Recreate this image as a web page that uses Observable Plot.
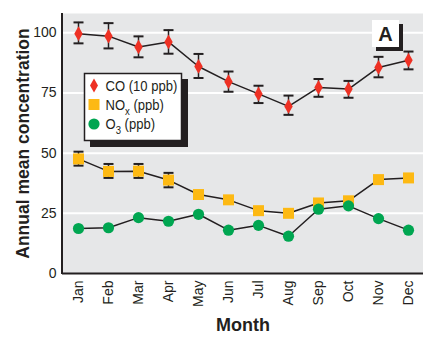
<!DOCTYPE html>
<html>
<head>
<meta charset="utf-8">
<script src="https://cdn.jsdelivr.net/npm/d3@7"></script>
<script src="https://cdn.jsdelivr.net/npm/@observablehq/plot@0.6"></script>
<style>
  html, body { margin: 0; padding: 0; background: #fff; }
  #chart svg { display: block; }
</style>
</head>
<body>
<div id="chart"></div>
<script>
const months = ["Jan","Feb","Mar","Apr","May","Jun","Jul","Aug","Sep","Oct","Nov","Dec"];
const coValues = [99.6, 98.6, 94.1, 96.2, 86.0, 79.7, 74.6, 69.4, 77.3, 76.6, 85.6, 88.6];
const coLow    = [95.6, 93.5, 89.8, 91.3, 81.2, 75.5, 70.8, 65.9, 73.4, 73.0, 81.5, 84.8];
const coHigh   = [104.3, 104.0, 98.5, 101.1, 91.2, 83.9, 78.0, 73.9, 80.8, 80.0, 90.0, 92.2];
const noxValues = [47.6, 42.4, 42.5, 38.8, 32.8, 30.6, 26.1, 25.0, 29.3, 30.2, 39.0, 39.7];
const noxLow    = [44.8, 39.7, 39.7, 35.8, null, null, null, null, null, null, null, null];
const noxHigh   = [50.6, 45.5, 45.5, 41.8, null, null, null, null, null, null, null, null];
const o3Values  = [18.7, 19.0, 23.2, 21.7, 24.6, 18.0, 20.0, 15.5, 26.7, 28.1, 22.8, 18.0];
const yTicks = [0, 25, 50, 75, 100];
const gridTicks = [25, 50, 75, 100];
const legendLabels = ["CO (10 ppb)", "NO", "O"];

const dark = "#231f20";
const red = "#ee3124";
const orange = "#fdb913";
const green = "#00a651";
const font = "'Liberation Sans', Arial, sans-serif";

const co = months.map((m, i) => ({month: m, value: coValues[i], low: coLow[i], high: coHigh[i]}));
const nox = months.map((m, i) => ({month: m, value: noxValues[i], low: noxLow[i], high: noxHigh[i]}));
const noxErr = nox.filter(d => d.low != null);
const o3 = months.map((m, i) => ({month: m, value: o3Values[i]}));

const tallDiamond = {
  draw(ctx, size) {
    const r = Math.sqrt(size / Math.PI);
    ctx.moveTo(0, -r * 1.75);
    ctx.lineTo(r, 0);
    ctx.lineTo(0, r * 1.75);
    ctx.lineTo(-r, 0);
    ctx.closePath();
  }
};
const capSymbol = {
  draw(ctx, size) {
    const r = Math.sqrt(size / Math.PI);
    ctx.moveTo(-r, 0);
    ctx.lineTo(r, 0);
  }
};

const capStyle = {symbol: capSymbol, r: 5, stroke: dark, strokeWidth: 2, fill: "none"};

const plot = Plot.plot({
  width: 423,
  height: 337,
  marginLeft: 62,
  marginRight: 0,
  marginTop: 13,
  marginBottom: 64,
  style: {fontFamily: font, background: "#fff", color: dark},
  x: {type: "point", domain: months, padding: 0.46},
  y: {domain: [0, 108]},
  marks: [
    Plot.frame({fill: "#e6e7e8"}),
    Plot.ruleY(gridTicks, {stroke: "#fff", strokeWidth: 2}),
    Plot.axisY(yTicks, {tickSize: 0, tickPadding: 6, fontSize: 14, fill: dark, label: null}),
    Plot.axisX({tickSize: 0, tickPadding: 7, tickRotate: -90, fontSize: 14, fill: dark, label: null}),
    Plot.ruleY([0], {stroke: dark, strokeWidth: 2}),
    // lines
    Plot.line(co, {x: "month", y: "value", stroke: dark, strokeWidth: 1.5}),
    Plot.line(nox, {x: "month", y: "value", stroke: dark, strokeWidth: 1.5}),
    Plot.line(o3, {x: "month", y: "value", stroke: dark, strokeWidth: 1.5}),
    // error bars
    Plot.ruleX(co, {x: "month", y1: "low", y2: "high", stroke: dark, strokeWidth: 1.5}),
    Plot.dot(co, {x: "month", y: "low", ...capStyle}),
    Plot.dot(co, {x: "month", y: "high", ...capStyle}),
    Plot.ruleX(noxErr, {x: "month", y1: "low", y2: "high", stroke: dark, strokeWidth: 1.5}),
    Plot.dot(noxErr, {x: "month", y: "low", ...capStyle}),
    Plot.dot(noxErr, {x: "month", y: "high", ...capStyle}),
    // symbols
    Plot.dot(co, {x: "month", y: "value", symbol: tallDiamond, r: 4.2, fill: red, stroke: "none"}),
    Plot.dot(nox, {x: "month", y: "value", symbol: "square", r: 6.2, fill: orange, stroke: "none"}),
    Plot.dot(o3, {x: "month", y: "value", r: 5.6, fill: green, stroke: "none"}),
    // axis titles
    Plot.text(["Annual mean concentration"], {frameAnchor: "left", textAnchor: "middle", dx: -39, rotate: -90, fontSize: 17.5, fontWeight: "bold", fill: dark}),
    Plot.text(["Month"], {frameAnchor: "bottom", dy: 57, fontSize: 18, fontWeight: "bold", fill: dark})
  ]
});

const svg = d3.select(plot);
const ys = plot.scale("y");

// left axis line
svg.append("line")
  .attr("x1", 62).attr("x2", 62)
  .attr("y1", ys.apply(108)).attr("y2", ys.apply(0) + 1)
  .attr("stroke", dark).attr("stroke-width", 2);

// legend
const lg = svg.append("g").attr("font-family", font).attr("font-size", 15).attr("fill", dark).attr("text-anchor", "start");
lg.append("rect").attr("x", 90).attr("y", 79).attr("width", 98).attr("height", 68).attr("fill", dark);
lg.append("rect").attr("x", 84.5).attr("y", 73.5).attr("width", 97).attr("height", 67).attr("fill", "#fff").attr("stroke", dark).attr("stroke-width", 1.5);
const rows = [85.5, 104.5, 124];
lg.append("path").attr("d", "M94,78.5L98,85.5L94,92.5L90,85.5Z").attr("fill", red);
lg.append("rect").attr("x", 88.5).attr("y", rows[1] - 5.5).attr("width", 11).attr("height", 11).attr("fill", orange);
lg.append("circle").attr("cx", 94).attr("cy", rows[2]).attr("r", 5.6).attr("fill", green);
const t0 = lg.append("text").attr("transform", `translate(105.5,${rows[0]}) scale(0.87,1)`).attr("dy", "0.36em").text(legendLabels[0]);
const t1 = lg.append("text").attr("transform", `translate(105.5,${rows[1]}) scale(0.87,1)`).attr("dy", "0.36em");
t1.append("tspan").text(legendLabels[1]);
t1.append("tspan").attr("font-size", 11).attr("dy", 5).text("x");
t1.append("tspan").attr("dy", -5).text(" (ppb)");
const t2 = lg.append("text").attr("transform", `translate(105.5,${rows[2]}) scale(0.87,1)`).attr("dy", "0.36em");
t2.append("tspan").text(legendLabels[2]);
t2.append("tspan").attr("font-size", 11).attr("dy", 5).text("3");
t2.append("tspan").attr("dy", -5).text(" (ppb)");

// panel label A
const ag = svg.append("g");
ag.append("rect").attr("x", 376).attr("y", 24).attr("width", 27).attr("height", 27).attr("fill", dark);
ag.append("rect").attr("x", 372).attr("y", 20).attr("width", 27).attr("height", 27).attr("fill", "#fff");
ag.append("text").attr("x", 385.5).attr("y", 33.5).attr("dy", "0.36em").attr("text-anchor", "middle")
  .attr("font-family", font).attr("font-weight", "bold").attr("font-size", 20).attr("fill", dark).text("A");

document.getElementById("chart").appendChild(plot);
</script>
</body>
</html>
